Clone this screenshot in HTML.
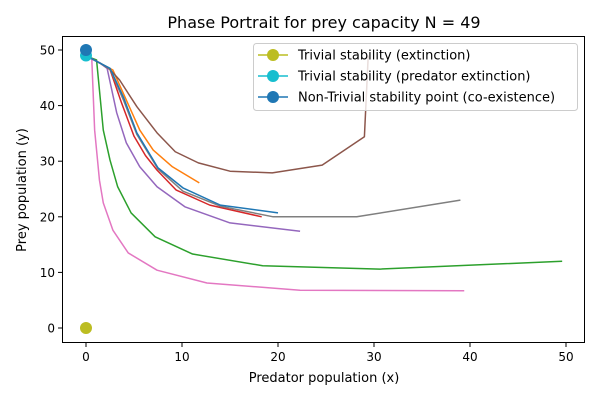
<!DOCTYPE html>
<html><head><meta charset="utf-8"><style>
body{margin:0;background:#fff;width:600px;height:400px;overflow:hidden}
svg{font-family:"DejaVu Sans","Liberation Sans",sans-serif}
</style></head><body>
<svg id="chart" width="600" height="400">
<text x="324" y="28" text-anchor="middle" font-size="16">Phase Portrait for prey capacity N = 49</text>
<text x="324" y="382" text-anchor="middle" font-size="13">Predator population (x)</text>
<text transform="translate(26,190) rotate(-90)" text-anchor="middle" font-size="13">Prey population (y)</text>
<g id="ticks"></g>
<g id="lines"></g>
<g id="pts"></g>
<rect x="62.5" y="36.5" width="522" height="306" fill="none" stroke="#000" stroke-width="1"/>
<g id="legend"></g>
</svg>
<script>
const xTicks=[0,10,20,30,40,50];
const yTicks=[0,10,20,30,40,50];
const trajColors=["#ff7f0e","#2ca02c","#d62728","#9467bd","#8c564b","#e377c2","#7f7f7f","#1f77b4"];
const trajOrange=[[0.2,48.8],[1.5,47.6],[2.8,46.4],[4.2,41.0],[5.6,35.6],[7.0,32.0],[9.0,29.0],[11.8,26.1]];
const trajGreen=[[0.2,48.8],[1.1,48.2],[1.8,35.6],[2.5,30.2],[3.3,25.4],[4.7,20.7],[7.2,16.4],[11.1,13.3],[18.4,11.2],[30.6,10.6],[49.6,12.0]];
const trajRed=[[0.2,48.8],[1.5,47.6],[2.5,46.5],[3.7,40.5],[5.0,34.5],[6.2,31.0],[7.4,28.4],[9.4,24.8],[12.9,22.1],[18.3,20.0]];
const trajPurple=[[0.2,48.8],[1.5,47.6],[2.2,46.7],[3.2,38.7],[4.2,33.3],[5.6,29.0],[7.4,25.4],[10.3,21.8],[15.0,18.9],[22.3,17.4]];
const trajBrown=[[0.2,48.8],[1.5,47.6],[2.5,46.5],[3.5,44.6],[5.3,39.8],[7.4,35.1],[9.3,31.7],[11.7,29.7],[15.0,28.2],[19.4,27.9],[24.6,29.3],[29.0,34.4],[29.4,49.0]];
const trajPink=[[0.6,48.5],[0.9,35.6],[1.4,26.6],[1.8,22.5],[2.8,17.6],[4.4,13.5],[7.4,10.4],[12.6,8.1],[22.3,6.8],[39.4,6.7]];
const trajGray=[[0.2,48.8],[1.5,47.6],[2.5,46.6],[3.9,41.0],[5.3,34.8],[7.5,28.6],[10.1,24.6],[14.0,21.9],[19.5,20.0],[28.2,20.0],[39.0,23.0]];
const trajBlue=[[0.2,48.8],[1.5,47.6],[2.5,46.7],[3.9,41.5],[5.3,35.1],[7.5,28.8],[10.1,25.2],[14.0,22.1],[20.0,20.7]];
const trajs=[trajOrange,trajGreen,trajRed,trajPurple,trajBrown,trajPink,trajGray,trajBlue];
const trajNames=["orange","green","red","purple","brown","pink","gray","blue"];
const eqX=[0,0,0];
const eqY=[0,49,50];
const eqColors=["#bcbd22","#17becf","#1f77b4"];
const eqLabels=["Trivial stability (extinction)","Trivial stability (predator extinction)","Non-Trivial stability point (co-existence)"];
const NS="http://www.w3.org/2000/svg";
const sx=v=>86+v*9.6, sy=v=>328-v*5.56;
function mk(t,a,p){const e=document.createElementNS(NS,t);for(const k in a)e.setAttribute(k,a[k]);p.appendChild(e);return e;}
const tg=document.getElementById('ticks');
xTicks.forEach(v=>{const x=sx(v);
 const l=mk('line',{x1:x,x2:x,y1:343,y2:347,stroke:'#000'},tg);
 
 
 const t=mk('text',{x:x,y:361,'text-anchor':'middle','font-size':12},tg);t.textContent=v;
 
 });
yTicks.forEach(v=>{const y=sy(v);
 const l=mk('line',{x1:58,x2:62,y1:y,y2:y,stroke:'#000'},tg);
 
 
 const t=mk('text',{x:55,y:y+4.5,'text-anchor':'end','font-size':12},tg);t.textContent=v;
 
 });
const lg=document.getElementById('lines');
trajs.forEach((tr,i)=>{const p=mk('polyline',{points:tr.map(d=>sx(d[0])+','+sy(d[1])).join(' '),fill:'none',stroke:trajColors[i],'stroke-width':1.5,'stroke-linejoin':'round'},lg);
 
 });
const pg=document.getElementById('pts');
eqX.forEach((v,i)=>{const c=mk('circle',{cx:sx(v),cy:sy(eqY[i]),r:6,fill:eqColors[i]},pg);
 
 });
const leg=document.getElementById('legend');
mk('rect',{x:253.5,y:43.5,width:324,height:67,rx:3,fill:'#fff','fill-opacity':0.8,stroke:'#ccc'},leg);
eqLabels.forEach((s,i)=>{const y=55+i*21;
 mk('line',{x1:258,x2:288,y1:y,y2:y,stroke:eqColors[i],'stroke-width':1.5},leg);
 mk('circle',{cx:273,cy:y,r:6,fill:eqColors[i]},leg);
 const t=mk('text',{x:298,y:y+4.5,'font-size':13},leg);t.textContent=s;
 
 });
</script>
</body></html>
